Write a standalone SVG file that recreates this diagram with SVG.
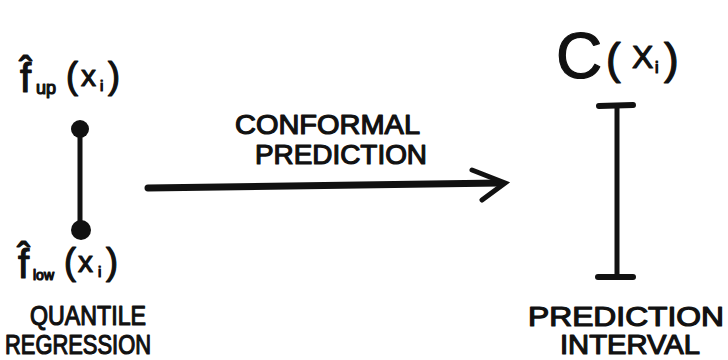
<svg xmlns="http://www.w3.org/2000/svg" width="728" height="360" viewBox="0 0 728 360">
<style>
.t{font-family:"Liberation Sans",Arial,sans-serif;fill:#111;stroke:#111;stroke-width:1.2;stroke-linejoin:round}
.ln{stroke:#111;stroke-linecap:round;fill:none}
</style>
<rect width="728" height="360" fill="#fff"/>
<g id="f-up">
<text class="t" x="20" y="92" font-size="40">f̂</text>
<text class="t" x="36" y="94" font-size="18">up</text>
<text class="t" x="66" y="88" font-size="36">(</text>
<text class="t" x="81" y="86" font-size="30">x</text>
<text class="t" x="100" y="91" font-size="15">i</text>
<text class="t" x="108" y="88" font-size="36">)</text>
</g>
<g id="quantile-regression">
<circle cx="80" cy="129" r="9" fill="#111"/>
<line class="ln" x1="80" y1="132" x2="80" y2="226" stroke-width="5"/>
<circle cx="81" cy="230" r="10" fill="#111"/>
</g>
<g id="f-low">
<text class="t" x="18" y="278" font-size="40">f̂</text>
<text class="t" x="33" y="280" font-size="14">low</text>
<text class="t" x="64" y="274" font-size="36">(</text>
<text class="t" x="78" y="272" font-size="30">x</text>
<text class="t" x="98" y="277" font-size="15">i</text>
<text class="t" x="106" y="274" font-size="36">)</text>
</g>
<g id="label-qr">
<text class="t" x="30" y="325" font-size="27" textLength="116" lengthAdjust="spacingAndGlyphs">QUANTILE</text>
<text class="t" x="5" y="354" font-size="27" textLength="146" lengthAdjust="spacingAndGlyphs">REGRESSION</text>
</g>
<g id="connectors">
<path class="ln" d="M148 188 L500 183" stroke-width="7"/>
<path class="ln" d="M472 170 L505 183 L482 200" stroke-width="5"/>
</g>
<g id="label-cp">
<text class="t" x="235" y="134" font-size="27" textLength="185" lengthAdjust="spacingAndGlyphs">CONFORMAL</text>
<text class="t" x="255" y="164" font-size="27" textLength="172" lengthAdjust="spacingAndGlyphs">PREDICTION</text>
</g>
<g id="c-xi">
<text class="t" x="556" y="78" font-size="64">C</text>
<text class="t" x="606" y="74" font-size="44">(</text>
<text class="t" x="632" y="68" font-size="32">X</text>
<text class="t" x="655" y="73" font-size="16">i</text>
<text class="t" x="664" y="74" font-size="44">)</text>
</g>
<g id="prediction-interval">
<line class="ln" x1="599" y1="106" x2="633" y2="105" stroke-width="6"/>
<line class="ln" x1="617" y1="106" x2="617" y2="276" stroke-width="5"/>
<line class="ln" x1="598" y1="277" x2="633" y2="277" stroke-width="6"/>
</g>
<g id="label-pi">
<text class="t" x="528" y="326" font-size="27" textLength="196" lengthAdjust="spacingAndGlyphs">PREDICTION</text>
<text class="t" x="560" y="354" font-size="27" textLength="140" lengthAdjust="spacingAndGlyphs">INTERVAL</text>
</g>
</svg>
